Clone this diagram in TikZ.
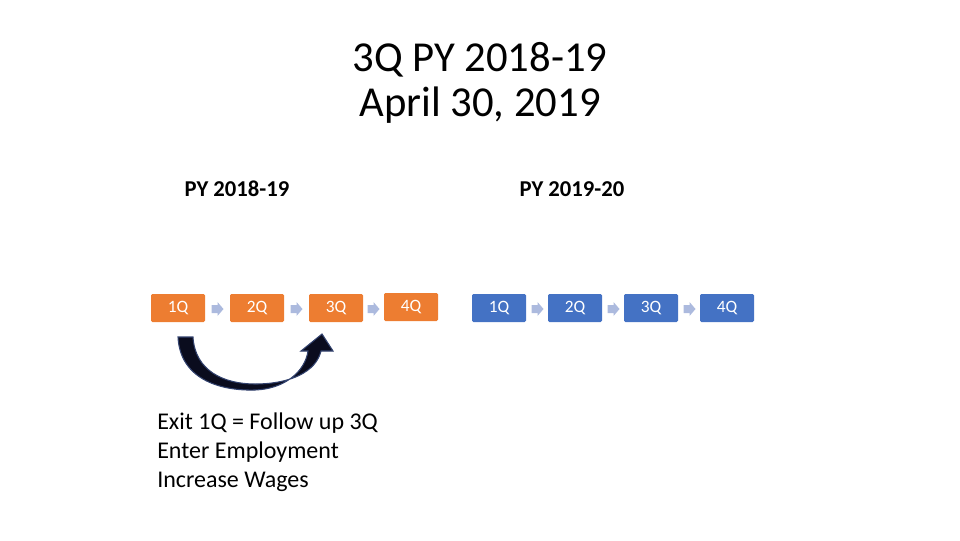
\documentclass[tikz,border=0pt]{standalone}
\usepackage{fontspec}
\setmainfont{Carlito}
\usepackage{xcolor}
\definecolor{qorange}{RGB}{237,125,49}
\definecolor{qblue}{RGB}{68,114,196}
\definecolor{steparrow}{RGB}{172,186,222}
\definecolor{bigarrow}{RGB}{10,12,30}
\definecolor{bigedge}{RGB}{50,66,110}

\tikzset{
  qbox/.style={minimum width=40.5pt, minimum height=21pt, rounded corners=1pt,
    text=white, font=\fontsize{13}{15}\selectfont, inner sep=0pt}
}

\begin{document}
\begin{tikzpicture}[x=0.75pt,y=-0.75pt]
\useasboundingbox (0,0) rectangle (960,540);

\node (title1) at (480,60) {\fontsize{32}{36}\selectfont 3Q PY 2018-19};
\node (title2) at (480,105) {\fontsize{32}{36}\selectfont April 30, 2019};

\node (py1) at (237,189) {\fontsize{17}{20}\selectfont\bfseries PY 2018-19};
\node (py2) at (572,189) {\fontsize{17}{20}\selectfont\bfseries PY 2019-20};

% orange quarters
\node[qbox,fill=qorange] (q1) at (178,308) {1Q};
\node[qbox,fill=qorange] (q2) at (257,308) {2Q};
\node[qbox,fill=qorange] (q3) at (336,308) {3Q};
\node[qbox,fill=qorange] (q4) at (411,307) {4Q};

% blue quarters
\node[qbox,fill=qblue] (r1) at (499,308) {1Q};
\node[qbox,fill=qblue] (r2) at (575,308) {2Q};
\node[qbox,fill=qblue] (r3) at (651,308) {3Q};
\node[qbox,fill=qblue] (r4) at (727,308) {4Q};

% small step arrows
\foreach \x in {217,296,373,537,613,689}
  \fill[steparrow,shift={(\x,309)}] (-5.5,-4) -- (0.5,-4) -- (0.5,-7) -- (6.5,0)
    -- (0.5,7) -- (0.5,4) -- (-5.5,4) -- cycle;

% curved arrow 1Q to 3Q
\draw[fill=bigarrow, draw=bigedge, line width=0.8pt]
  (178,337) .. controls (180,378) and (218,391) .. (255,390)
  .. controls (284,389) and (305,372) .. (308,351) -- (301,351) -- (322,334)
  -- (333,351) -- (321,351) .. controls (316,372) and (290,384) .. (255,384)
  .. controls (224,384) and (195,371) .. (193,337) -- cycle;

\node[anchor=north west, align=left, inner sep=0pt, font=\fontsize{18}{21.7}\selectfont] (note) at (157,413)
  {Exit 1Q = Follow up 3Q\\Enter Employment\\Increase Wages};
\end{tikzpicture}
\end{document}
